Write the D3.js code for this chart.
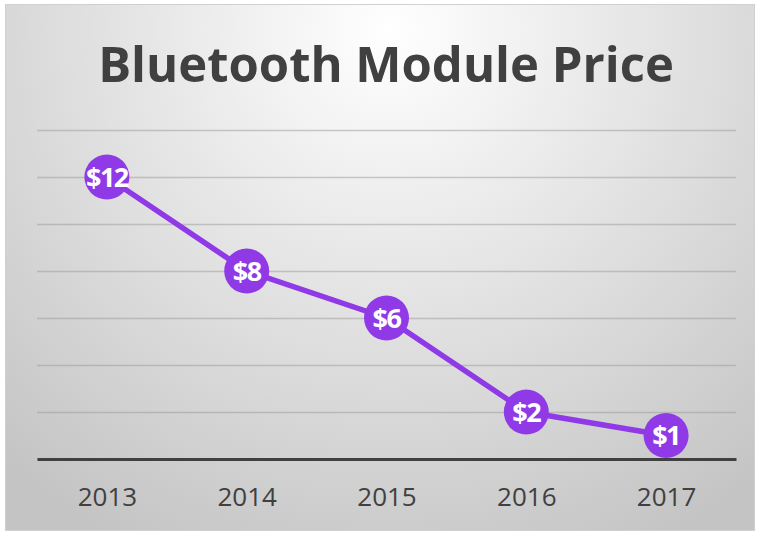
<!DOCTYPE html>
<html>
<head>
<meta charset="utf-8">
<script src="https://cdn.jsdelivr.net/npm/d3@7"></script>
<style>
  body { margin: 0; background: #fff; }
  svg { display: block; }
</style>
</head>
<body>
<svg width="759" height="533"></svg>
<script>
const years = ['2013', '2014', '2015', '2016', '2017'];
const prices = [12, 8, 6, 2, 1];
const yTicks = [0, 2, 4, 6, 8, 10, 12, 14];

const svg = d3.select('svg');
const width = +svg.attr('width');
const height = +svg.attr('height');

const margin = {top: 130, right: 23, bottom: 74, left: 37};
const innerWidth = width - margin.left - margin.right;
const innerHeight = height - margin.top - margin.bottom;

const purple = '#8f3ae6';
const textColor = '#404040';

// background gradient
const defs = svg.append('defs');
const grad = defs.append('radialGradient')
  .attr('id', 'bg')
  .attr('gradientUnits', 'userSpaceOnUse')
  .attr('cx', 390).attr('cy', 30).attr('r', 580);
grad.append('stop').attr('offset', '0%').attr('stop-color', '#ffffff');
grad.append('stop').attr('offset', '100%').attr('stop-color', '#c4c4c4');

svg.append('rect')
  .attr('x', 5.5).attr('y', 4.5)
  .attr('width', 749).attr('height', 526)
  .attr('fill', 'url(#bg)')
  .attr('stroke', '#d0d0d0');

svg.append('text')
  .attr('x', 386)
  .attr('y', 82)
  .attr('text-anchor', 'middle')
  .attr('font-family', 'Open Sans, sans-serif')
  .attr('font-weight', 'bold')
  .attr('font-size', 49)
  .attr('fill', textColor)
  .text('Bluetooth Module Price');

const xScale = d3.scalePoint()
  .domain(years)
  .range([0, innerWidth])
  .padding(0.5);

const yScale = d3.scaleLinear()
  .domain([0, 14])
  .range([innerHeight, 0]);

const g = svg.append('g')
  .attr('transform', `translate(${margin.left},${margin.top})`);

const yAxis = d3.axisLeft(yScale)
  .tickValues(yTicks)
  .tickSize(-innerWidth)
  .tickFormat('');

const yAxisG = g.append('g').call(yAxis);
yAxisG.select('.domain').remove();
yAxisG.selectAll('.tick line')
  .attr('stroke', '#9a9a9a')
  .attr('stroke-opacity', 0.5)
  .attr('stroke-width', 1.5);

const xAxis = d3.axisBottom(xScale)
  .tickSize(0)
  .tickPadding(29);

const xAxisG = g.append('g')
  .attr('transform', `translate(0,${innerHeight})`)
  .call(xAxis);
xAxisG.select('.domain')
  .attr('stroke', textColor)
  .attr('stroke-width', 3);
xAxisG.selectAll('.tick text')
  .attr('font-family', 'Open Sans, sans-serif')
  .attr('font-size', 26)
  .attr('fill', textColor);

const data = years.map((y, i) => ({year: y, price: prices[i]}));

const line = d3.line()
  .x(d => xScale(d.year))
  .y(d => yScale(d.price));

g.append('path')
  .attr('d', line(data))
  .attr('fill', 'none')
  .attr('stroke', purple)
  .attr('stroke-width', 5.5)
  .attr('stroke-linejoin', 'round');

g.selectAll('circle.pt')
  .data(data)
  .join('circle')
  .attr('class', 'pt')
  .attr('cx', d => xScale(d.year))
  .attr('cy', d => yScale(d.price))
  .attr('r', 22.5)
  .attr('fill', purple);

g.selectAll('text.lbl')
  .data(data)
  .join('text')
  .attr('class', 'lbl')
  .attr('x', d => xScale(d.year))
  .attr('y', d => yScale(d.price))
  .attr('dy', '0.36em')
  .attr('text-anchor', 'middle')
  .attr('font-family', 'Open Sans, sans-serif')
  .attr('font-weight', 'bold')
  .attr('font-size', 27)
  .attr('letter-spacing', -1.5)
  .attr('fill', '#ffffff')
  .text(d => '$' + d.price);
</script>
</body>
</html>
